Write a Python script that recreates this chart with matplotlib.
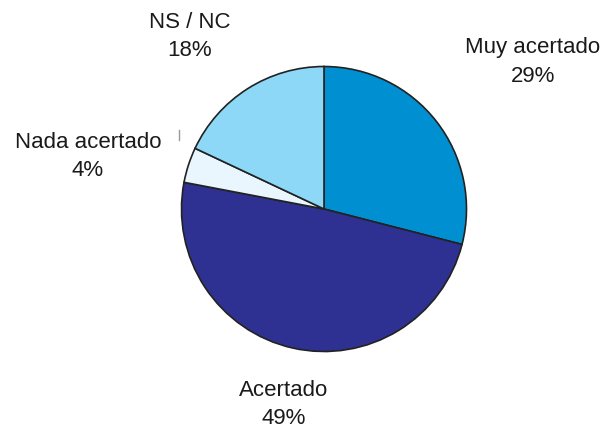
import matplotlib
matplotlib.use("Agg")
import matplotlib.pyplot as plt

categories = ["Muy acertado", "Acertado", "Nada acertado", "NS / NC"]
values = [29, 49, 4, 18]
colors = ["#008FD0", "#2E3191", "#E9F6FD", "#8DD7F7"]

W, H = 613, 430
fig = plt.figure(figsize=(W / 100, H / 100), dpi=100)
ax = fig.add_axes([0, 0, 1, 1])

cx, cy, r = 324, H - 209, 142.5
ax.pie(values, colors=colors, startangle=90, counterclock=False,
       center=(cx, cy), radius=r, frame=True,
       wedgeprops=dict(edgecolor="#222222", linewidth=1.2))
ax.set_xlim(0, W)
ax.set_ylim(0, H)
ax.set_aspect("equal")
ax.axis("off")

label_pos = {"Muy acertado": (533, 48), "Acertado": (284, 390),
             "Nada acertado": (88, 142), "NS / NC": (190, 22)}
for cat, v in zip(categories, values):
    x, y = label_pos[cat]
    ax.text(x, H - y, cat, ha="center", va="center", fontsize=16,
            family="Liberation Sans", color="#1a1a1a")
    ax.text(x, H - y - 28, f"{v}%", ha="center", va="center", fontsize=16,
            family="Liberation Sans", color="#1a1a1a")

# small leader tick next to "Nada acertado"
ax.plot([179, 179], [H - 130, H - 140], color="#999999", lw=1)

fig.savefig("out.png", dpi=100, facecolor="white")
